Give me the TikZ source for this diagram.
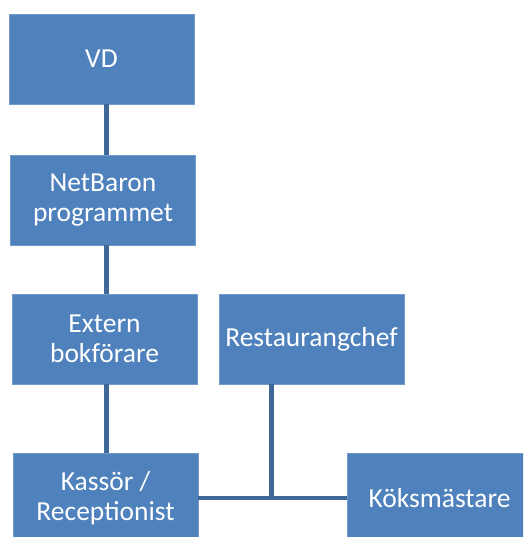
\documentclass[tikz,border=0pt]{standalone}
\usepackage{fontspec}
\setmainfont{Carlito}
\usepackage{tikz}
\usetikzlibrary{positioning}
\definecolor{boxblue}{HTML}{4F81BD}
\definecolor{lineblue}{HTML}{3F6899}
\tikzstyle{rbox} = [rectangle, fill=boxblue, draw=boxblue!80!white, line width=0.6pt, minimum width=185pt, minimum height=90pt, inner sep=0pt, text=white, align=center, font=\fontsize{27.5}{30}\selectfont]
\tikzstyle{line} = [draw, lineblue, line width=4.5pt]

\begin{document}
\begin{tikzpicture}[x=1pt, y=-1pt]
			\useasboundingbox (0,0) rectangle (523,537);
			\clip (0,0) rectangle (523,537);
			\node [rbox] (vd) at (101.5, 59) {VD};
			\node [rbox] (netbaron) at (103, 200) {NetBaron\\programmet};
			\node [rbox] (bokf) at (104.5, 339) {Extern\\bokförare};
			\node [rbox] (resto) at (311.5, 339) {Restaurangchef};
			\node [rbox] (kassor) at (105.5, 498) {Kassör /\\Receptionist};
			\node [rbox] (koks) at (439.5, 498) {Köksmästare};
			\coordinate (spine) at (106.5, 0);
			\coordinate (join) at (271.5, 498);

			\path [line] (vd.south -| spine) -- (netbaron.north -| spine);
			\path [line] (netbaron.south -| spine) -- (bokf.north -| spine);
			\path [line] (bokf.south -| spine) -- (kassor.north -| spine);
			\path [line] (kassor.east) -- (koks.west);
			\path [line] (resto.south -| join) -- (join);
		\end{tikzpicture}
\end{document}
